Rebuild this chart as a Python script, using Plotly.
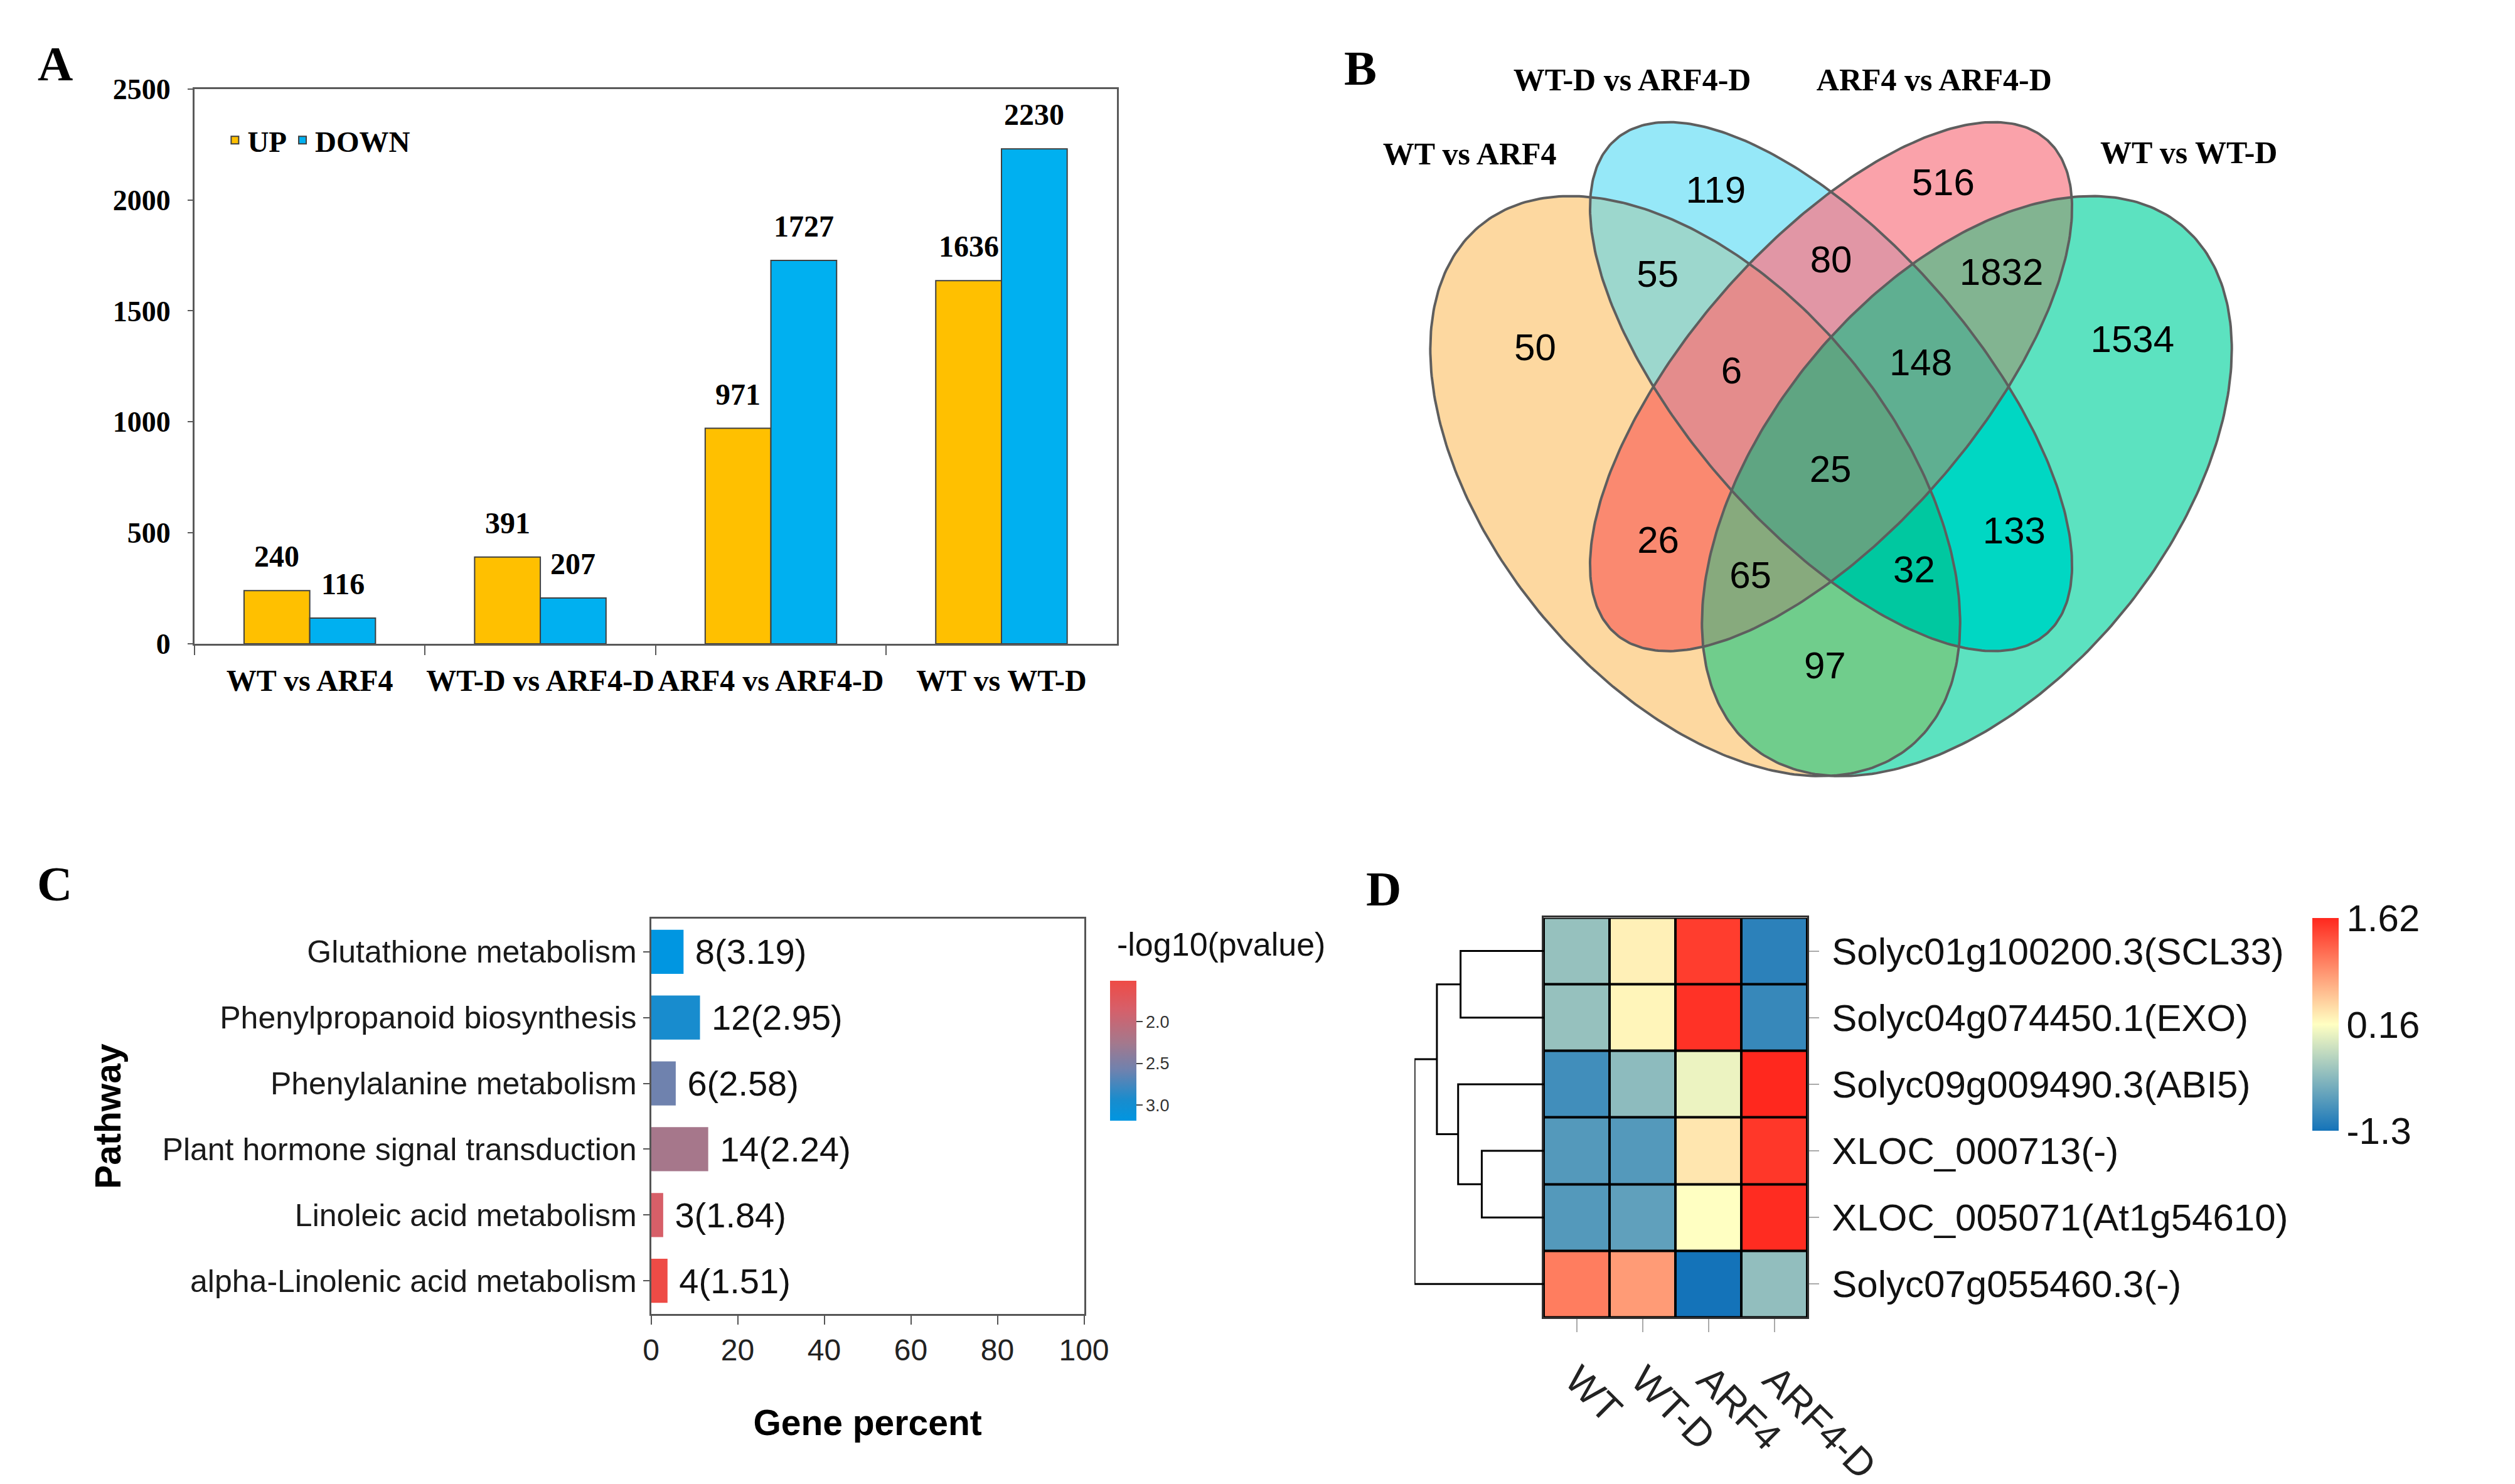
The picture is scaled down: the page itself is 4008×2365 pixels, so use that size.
import numpy as np
import plotly.graph_objects as go

FIG_W, FIG_H = 4008, 2365
SERIF = "Liberation Serif"
SANS = "Liberation Sans"

# ---------------- Panel A data ----------------
a_categories = ["WT vs ARF4", "WT-D vs ARF4-D", "ARF4 vs ARF4-D", "WT vs WT-D"]
a_up = [240, 391, 971, 1636]
a_down = [116, 207, 1727, 2230]
a_series_names = ["UP", "DOWN"]
a_yticks = [0, 500, 1000, 1500, 2000, 2500]

# ---------------- Panel B data ----------------
venn_set_names = ["WT vs ARF4", "WT-D vs ARF4-D", "ARF4 vs ARF4-D", "WT vs WT-D"]
venn_set_keys = ["A", "B", "C", "D"]
venn_regions = ["A", "B", "C", "D", "AB", "BC", "CD", "AC", "BD", "AD",
                "ABC", "BCD", "ACD", "ABD", "ABCD"]
venn_counts = [50, 119, 516, 1534, 55, 80, 1832, 26, 133, 97, 6, 148, 65, 32, 25]

# ---------------- Panel C data ----------------
c_pathways = ["Glutathione metabolism", "Phenylpropanoid biosynthesis",
              "Phenylalanine metabolism", "Plant hormone signal transduction",
              "Linoleic acid metabolism", "alpha-Linolenic acid metabolism"]
c_gene_percent = [7.5, 11.3, 5.7, 13.2, 2.8, 3.8]
c_gene_count = [8, 12, 6, 14, 3, 4]
c_neglog10p = [3.19, 2.95, 2.58, 2.24, 1.84, 1.51]
c_xticks = [0, 20, 40, 60, 80, 100]
c_cbar_ticks = [2.0, 2.5, 3.0]

# ---------------- Panel D data ----------------
d_genes = ["Solyc01g100200.3(SCL33)", "Solyc04g074450.1(EXO)",
           "Solyc09g009490.3(ABI5)", "XLOC_000713(-)",
           "XLOC_005071(At1g54610)", "Solyc07g055460.3(-)"]
d_samples = ["WT", "WT-D", "ARF4", "ARF4-D"]
d_values = [
    [-0.49, 0.26, 1.48, -1.15],
    [-0.49, 0.23, 1.55, -1.08],
    [-1.02, -0.55, 0.04, 1.62],
    [-0.90, -0.90, 0.33, 1.52],
    [-0.90, -0.83, 0.16, 1.59],
    [1.04, 0.84, -1.30, -0.52],
]
d_cbar_ticks = [-1.3, 0.16, 1.62]
# dendrogram merges: (left node, right node, height); leaves 0..5, new nodes 6..
d_merges = [(0, 1, 1.37), (3, 4, 1.02), (2, 7, 1.41), (6, 8, 1.76), (9, 5, 2.13)]

# ---------------- helpers ----------------
def px_x(p):
    return p / FIG_W

def px_y(p):
    return 1 - p / FIG_H

fig = go.Figure()

# ================= Panel A =================
a_colors = ["#FFC000", "#00B0F0"]
a_bargap = 0.43
for name, vals, col in zip(a_series_names, [a_up, a_down], a_colors):
    fig.add_trace(go.Bar(
        x=a_categories, y=vals, name=name, marker=dict(color=col, line=dict(color="#404040", width=2)),
        xaxis="x", yaxis="y", showlegend=True,
    ))
half = (1 - a_bargap) / 4
for k, vals in enumerate([a_up, a_down]):
    off = -half if k == 0 else half
    for i, v in enumerate(vals):
        fig.add_annotation(x=i + off, y=v, xref="x", yref="y", text=str(v), showarrow=False,
                           yanchor="bottom", yshift=26,
                           font=dict(family=SERIF, size=48, color="black", weight="bold"))

# ================= Panel C =================
c_colorscale = [[0.0, "#0096E1"], [0.15, "#198CCD"], [0.36, "#6E82AF"],
                [0.56, "#A5788C"], [0.8, "#D75F69"], [1.0, "#EE4B46"]]
fig.add_trace(go.Bar(
    x=c_gene_percent, y=c_pathways, orientation="h", xaxis="x2", yaxis="y2",
    width=0.67, showlegend=False,
    marker=dict(color=[-v for v in c_neglog10p], colorscale=c_colorscale,
                cmin=-max(c_neglog10p), cmax=-min(c_neglog10p),
                line=dict(width=0),
                colorbar=dict(
                    x=px_x(1809), xanchor="left", xpad=0, ypad=0,
                    y=px_y(1564), yanchor="top", len=(1792 - 1564) / FIG_H, lenmode="fraction",
                    thickness=42, outlinewidth=0,
                    tickvals=[-t for t in c_cbar_ticks], ticktext=[f"{t:.1f}" for t in c_cbar_ticks],
                    ticks="outside", ticklen=10, tickwidth=2, tickcolor="#444",
                    tickfont=dict(family=SANS, size=27, color="#333"),
                )),
    text=[f"\u00a0{c}({p:.2f})" for c, p in zip(c_gene_count, c_neglog10p)],
    textposition="outside", cliponaxis=False,
    textfont=dict(family=SANS, size=56, color="#111"),
))
fig.add_annotation(x=px_x(1818), y=px_y(1504), xref="paper", yref="paper", text="-log10(pvalue)",
                   showarrow=False, xanchor="left", yanchor="middle",
                   font=dict(family=SANS, size=52, color="#111"))

# ================= Panel D: heatmap =================
fig.add_trace(go.Heatmap(
    z=d_values, x=list(range(len(d_samples))), y=list(range(len(d_genes))),
    xaxis="x3", yaxis="y3", xgap=4, ygap=4,
    colorscale=[[0, "#1473B9"], [0.5, "#FFFFC2"], [1, "#FF281E"]],
    zmin=min(d_cbar_ticks), zmax=max(d_cbar_ticks),
    colorbar=dict(
        x=px_x(3792), xanchor="left", xpad=0, ypad=0,
        y=px_y(1462), yanchor="top", len=(1808 - 1462) / FIG_H, lenmode="fraction",
        thickness=42, outlinewidth=0,
        tickvals=d_cbar_ticks, ticktext=[f"{t:g}" for t in d_cbar_ticks],
        ticks="", tickfont=dict(family=SANS, size=60, color="#111"),
    ),
))

# dendrogram
node_pos = {i: (float(i), 0.0) for i in range(len(d_genes))}
dx, dy = [], []
for k, (l, r, h) in enumerate(d_merges):
    yl, hl = node_pos[l]
    yr, hr = node_pos[r]
    dx += [hl, h, h, hr, None]
    dy += [yl, yl, yr, yr, None]
    node_pos[len(d_genes) + k] = ((yl + yr) / 2, h)
fig.add_trace(go.Scatter(x=dx, y=dy, mode="lines", xaxis="x4", yaxis="y4",
                         line=dict(color="black", width=3), showlegend=False, hoverinfo="skip"))

# ================= Panel B: Venn =================
venn_geom = {  # center x, center y, semi-major, semi-minor, rotation (deg, screen)
    "A": (2774, 758, 553, 329, 49.7),
    "B": (2998, 596, 537, 235, 48.4),
    "C": (2998, 596, 537, 235, -48.4),
    "D": (3222, 758, 553, 329, -49.7),
}
venn_fill = {
    "A": "#FDD8A0", "B": "#96E8F8", "C": "#FAA2AA", "D": "#5CE2C0",
    "AB": "#9CD7CD", "BC": "#E196A5", "CD": "#82B491", "AC": "#FA8970",
    "BD": "#00D7C3", "AD": "#70CD8C", "ABC": "#E48C8C", "BCD": "#5FAF91",
    "ACD": "#87AA7D", "ABD": "#00C8A0", "ABCD": "#5FA582",
}
venn_label_pos = {
    "A": (2510, 538), "B": (2808, 281), "C": (3183, 269), "D": (3495, 524),
    "AB": (2712, 418), "BC": (2998, 394), "CD": (3279, 415), "AC": (2713, 851),
    "BD": (3300, 836), "AD": (2988, 1056), "ABC": (2834, 575), "BCD": (3146, 562),
    "ACD": (2865, 909), "ABD": (3135, 899), "ABCD": (2997, 736),
}
venn_name_pos = [(2402, 221), (2670, 101), (3168, 101), (3588, 219)]


def ellipse_pts(cx, cy, a, b, deg, n=360):
    t = np.linspace(0, 2 * np.pi, n, endpoint=False)
    th = np.radians(deg)
    x = cx + a * np.cos(t) * np.cos(th) - b * np.sin(t) * np.sin(th)
    y = cy + a * np.cos(t) * np.sin(th) + b * np.sin(t) * np.cos(th)
    return list(zip(x.tolist(), y.tolist()))


def poly_area(p):
    s = 0.0
    for i in range(len(p)):
        x1, y1 = p[i]
        x2, y2 = p[(i + 1) % len(p)]
        s += x1 * y2 - x2 * y1
    return s / 2


def clip(subject, clipper):
    sgn = 1 if poly_area(clipper) > 0 else -1

    def inside(p, a, b):
        return sgn * ((b[0] - a[0]) * (p[1] - a[1]) - (b[1] - a[1]) * (p[0] - a[0])) >= 0

    def inter(p1, p2, a, b):
        x1, y1 = p1; x2, y2 = p2; x3, y3 = a; x4, y4 = b
        den = (x1 - x2) * (y3 - y4) - (y1 - y2) * (x3 - x4)
        if den == 0:
            return p2
        tt = ((x1 - x3) * (y3 - y4) - (y1 - y3) * (x3 - x4)) / den
        return (x1 + tt * (x2 - x1), y1 + tt * (y2 - y1))

    out = subject
    for i in range(len(clipper)):
        a = clipper[i]; b = clipper[(i + 1) % len(clipper)]
        inp = out; out = []
        if not inp:
            break
        s = inp[-1]
        for e in inp:
            if inside(e, a, b):
                if not inside(s, a, b):
                    out.append(inter(s, e, a, b))
                out.append(e)
            elif inside(s, a, b):
                out.append(inter(s, e, a, b))
            s = e
    return out


ell = {k: ellipse_pts(*venn_geom[k]) for k in venn_set_keys}
for key in sorted(venn_regions, key=len):
    poly = ell[key[0]]
    for other in key[1:]:
        poly = clip(poly, ell[other])
    if not poly:
        continue
    xs = [p[0] for p in poly] + [poly[0][0]]
    ys = [p[1] for p in poly] + [poly[0][1]]
    fig.add_trace(go.Scatter(x=xs, y=ys, mode="lines", fill="toself", fillcolor=venn_fill[key],
                             line=dict(width=0, color=venn_fill[key]), xaxis="x5", yaxis="y5",
                             showlegend=False, hoverinfo="skip"))
for k in venn_set_keys:
    pts = ell[k] + [ell[k][0]]
    fig.add_trace(go.Scatter(x=[p[0] for p in pts], y=[p[1] for p in pts], mode="lines",
                             line=dict(color="#5E5E5E", width=4), xaxis="x5", yaxis="y5",
                             showlegend=False, hoverinfo="skip"))
fig.add_trace(go.Scatter(
    x=[venn_label_pos[r][0] for r in venn_regions], y=[venn_label_pos[r][1] for r in venn_regions],
    text=[str(c) for c in venn_counts], mode="text", xaxis="x5", yaxis="y5",
    textfont=dict(family=SANS, size=60, color="black"), showlegend=False, hoverinfo="skip"))
fig.add_trace(go.Scatter(
    x=[p[0] for p in venn_name_pos], y=[p[1] for p in venn_name_pos], text=venn_set_names,
    mode="text", xaxis="x5", yaxis="y5",
    textfont=dict(family=SERIF, size=50, color="black", weight="bold"), showlegend=False, hoverinfo="skip"))

# ================= Panel labels =================
for lab, (lx, ly) in zip(["A", "B", "C", "D"], [(69, 70), (2222, 77), (68, 1406), (2260, 1414)]):
    fig.add_annotation(x=px_x(lx), y=px_y(ly), xref="paper", yref="paper", text=lab, showarrow=False,
                       xanchor="center", yanchor="middle",
                       font=dict(family=SERIF, size=78, color="black", weight="bold"))

# heatmap black grid background
fig.add_shape(type="rect", xref="x3", yref="y3", x0=-0.5, x1=len(d_samples) - 0.5,
              y0=-0.5, y1=len(d_genes) - 0.5, fillcolor="black", line=dict(width=0), layer="below")

frameA = "#595959"
fig.update_layout(
    width=FIG_W, height=FIG_H, margin=dict(l=0, r=0, t=0, b=0),
    paper_bgcolor="white", plot_bgcolor="rgba(0,0,0,0)",
    font=dict(family=SANS, color="black"),
    barmode="group", bargap=a_bargap, bargroupgap=0,
    legend=dict(x=px_x(345), y=px_y(195), xanchor="left", yanchor="middle", orientation="h",
                font=dict(family=SERIF, size=47, color="black", weight="bold"),
                bgcolor="rgba(0,0,0,0)", itemwidth=30, tracegroupgap=0),
    # Panel A
    xaxis=dict(domain=[px_x(299), px_x(1820)], anchor="y", type="category",
               categoryorder="array", categoryarray=a_categories, tickson="boundaries",
               tickangle=0,
               ticks="outside", ticklen=15, tickwidth=2, tickcolor=frameA,
               showline=True, mirror=True, linecolor=frameA, linewidth=3, showgrid=False,
               ticklabelstandoff=14,
               tickfont=dict(family=SERIF, size=48, color="black", weight="bold")),
    yaxis=dict(domain=[px_y(1015), px_y(111)], anchor="x", range=[0, 2500], tickvals=a_yticks,
               ticks="outside", ticklen=8, tickwidth=2, tickcolor=frameA,
               showline=True, mirror=True, linecolor=frameA, linewidth=3, showgrid=False,
               zeroline=False, ticklabelstandoff=18,
               tickfont=dict(family=SERIF, size=46, color="black", weight="bold")),
    # Panel C
    xaxis2=dict(domain=[px_x(1052), px_x(1766)], anchor="y2", range=[0, 100], tickvals=c_xticks,
                ticks="outside", ticklen=14, tickwidth=2, tickcolor="#555",
                showline=True, mirror=True, linecolor="#555", linewidth=3, showgrid=False, zeroline=False,
                tickfont=dict(family=SANS, size=48, color="#222"),
                title=dict(text="Gene percent", standoff=70,
                           font=dict(family=SANS, size=57, color="black", weight="bold"))),
    yaxis2=dict(domain=[px_y(2106), px_y(1463)], anchor="x2", type="category",
                categoryorder="array", categoryarray=c_pathways, autorange="reversed",
                ticks="outside", ticklen=10, tickwidth=2, tickcolor="#555",
                showline=True, mirror=True, linecolor="#555", linewidth=3, showgrid=False,
                tickfont=dict(family=SANS, size=50, color="#1a1a1a"),
                title=dict(text="Pathway", standoff=48,
                           font=dict(family=SANS, size=57, color="black", weight="bold"))),
    # Panel D heatmap
    xaxis3=dict(domain=[px_x(2524), px_x(2959)], anchor="y3", range=[-0.5, len(d_samples) - 0.5],
                tickvals=list(range(len(d_samples))), ticktext=d_samples, tickangle=45,
                ticks="outside", ticklen=21, tickwidth=2, tickcolor="#AAAAAA",
                showline=True, mirror=True, linecolor="#333", linewidth=3, showgrid=False, zeroline=False,
                ticklabelstandoff=14,
                tickfont=dict(family=SANS, size=62, color="#222")),
    yaxis3=dict(domain=[px_y(2112), px_y(1461)], anchor="x3", range=[len(d_genes) - 0.5, -0.5],
                side="right", tickvals=list(range(len(d_genes))), ticktext=d_genes,
                ticks="outside", ticklen=16, tickwidth=2, tickcolor="#AAAAAA",
                showline=True, mirror=True, linecolor="#333", linewidth=3, showgrid=False, zeroline=False,
                ticklabelstandoff=8,
                tickfont=dict(family=SANS, size=60, color="#111")),
    # dendrogram
    xaxis4=dict(domain=[px_x(2311), px_x(2524)], anchor="y4", range=[max(m[2] for m in d_merges), 0],
                visible=False),
    yaxis4=dict(domain=[px_y(2112), px_y(1461)], anchor="x4", range=[len(d_genes) - 0.5, -0.5],
                visible=False),
    # Venn
    xaxis5=dict(domain=[0.5, 1.0], anchor="y5", range=[2004, 4008], visible=False),
    yaxis5=dict(domain=[px_y(1300), 1.0], anchor="x5", range=[1300, 0], visible=False),
)

fig.write_html("out.html")
